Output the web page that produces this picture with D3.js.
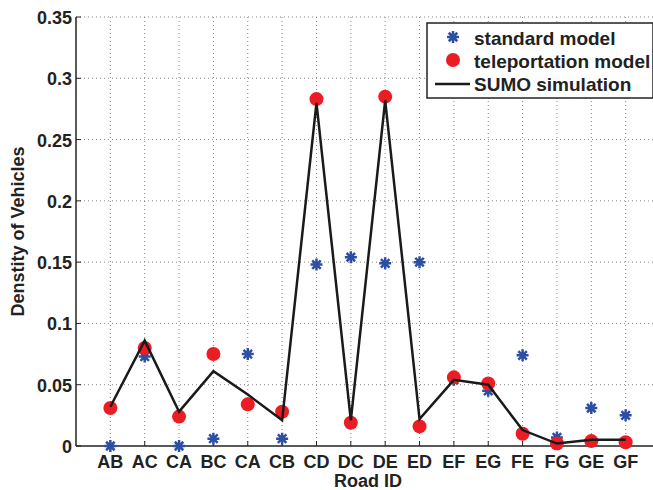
<!DOCTYPE html>
<html lang="en">
<head>
  <meta charset="UTF-8">
  <title>Density of Vehicles</title>
  <script src="https://d3js.org/d3.v7.min.js"></script>
  <style>
    body {
      margin: 0;
      background-color: #fff;
      overflow: hidden;
    }
    text {
      font-family: "Liberation Sans", Arial, sans-serif;
      font-weight: bold;
      fill: #222;
    }
    .grid line {
      stroke: #888;
      stroke-width: 1;
      stroke-dasharray: 1, 3;
    }
  </style>
</head>
<body>
  <div id="chart"></div>
  <script>
    const roads = ["AB", "AC", "CA", "BC", "CA", "CB", "CD", "DC", "DE", "ED", "EF", "EG", "FE", "FG", "GE", "GF"];
    const standardModel = [0.000, 0.073, 0.000, 0.006, 0.075, 0.006, 0.148, 0.154, 0.149, 0.150, 0.054, 0.045, 0.074, 0.007, 0.031, 0.025];
    const teleportModel = [0.031, 0.080, 0.024, 0.075, 0.034, 0.028, 0.283, 0.019, 0.285, 0.016, 0.056, 0.051, 0.010, 0.002, 0.004, 0.003];
    const sumoSim = [0.032, 0.086, 0.028, 0.061, 0.042, 0.021, 0.280, 0.021, 0.282, 0.022, 0.054, 0.050, 0.013, 0.002, 0.005, 0.005];
    const yTicks = [0, 0.05, 0.1, 0.15, 0.2, 0.25, 0.3, 0.35];

    const width = 653, height = 490;
    const plotL = 76, plotR = 660, plotT = 17, plotB = 446;

    const svg = d3.select("#chart").append("svg")
      .attr("width", width)
      .attr("height", height);

    const x = d3.scaleLinear().domain([0, roads.length + 1]).range([plotL, plotR]);
    const y = d3.scaleLinear().domain([0, 0.35]).range([plotB, plotT]);
    const xi = i => x(i + 1);

    // grid
    const grid = svg.append("g").attr("class", "grid");
    grid.selectAll(".h").data(yTicks.slice(1)).join("line")
      .attr("x1", plotL).attr("x2", plotR)
      .attr("y1", d => y(d)).attr("y2", d => y(d));
    grid.selectAll(".v").data(roads).join("line")
      .attr("x1", (d, i) => xi(i)).attr("x2", (d, i) => xi(i))
      .attr("y1", plotT).attr("y2", plotB);

    // axes
    const axes = svg.append("g");
    axes.append("line").attr("x1", plotL).attr("x2", plotR).attr("y1", plotB).attr("y2", plotB)
      .attr("stroke", "#222").attr("stroke-width", 1.5);
    axes.append("line").attr("x1", plotL).attr("x2", plotL).attr("y1", plotT).attr("y2", plotB)
      .attr("stroke", "#222").attr("stroke-width", 1.5);

    axes.selectAll(".yt").data(yTicks).join("line")
      .attr("x1", plotL).attr("x2", plotL + 5)
      .attr("y1", d => y(d)).attr("y2", d => y(d))
      .attr("stroke", "#222");
    axes.selectAll(".xt").data(roads).join("line")
      .attr("x1", (d, i) => xi(i)).attr("x2", (d, i) => xi(i))
      .attr("y1", plotB).attr("y2", plotB - 5)
      .attr("stroke", "#222");

    axes.selectAll(".yl").data(yTicks).join("text")
      .attr("x", plotL - 4)
      .attr("y", d => y(d) + 7)
      .attr("text-anchor", "end")
      .style("font-size", "18px")
      .text(d => d3.format("")(d));

    axes.selectAll(".xl").data(roads).join("text")
      .attr("x", (d, i) => xi(i))
      .attr("y", 468)
      .attr("text-anchor", "middle")
      .style("font-size", "18px")
      .text(d => d);

    svg.append("text")
      .attr("x", (plotL + plotR) / 2)
      .attr("y", 487)
      .attr("text-anchor", "middle")
      .style("font-size", "18px")
      .text("Road ID");

    svg.append("text")
      .attr("transform", `translate(24,${(plotT + plotB) / 2}) rotate(-90)`)
      .attr("text-anchor", "middle")
      .style("font-size", "18px")
      .text("Denstity of Vehicles");

    // markers: 8-spoke asterisk like MATLAB '*'
    const r = 6, q = r * Math.SQRT1_2;
    const star = `M${-r},0L${r},0M0,${-r}L0,${r}M${-q},${-q}L${q},${q}M${-q},${q}L${q},${-q}`;
    const blue = "#2d4fa3", red = "#ec1c24";

    svg.append("g").selectAll("path").data(standardModel).join("path")
      .attr("d", star)
      .attr("transform", (d, i) => `translate(${xi(i)},${y(d)})`)
      .attr("fill", "none")
      .attr("stroke", blue)
      .attr("stroke-width", 2.5);

    svg.append("g").selectAll("circle").data(teleportModel).join("circle")
      .attr("cx", (d, i) => xi(i))
      .attr("cy", d => y(d))
      .attr("r", 7)
      .attr("fill", red);

    svg.append("path")
      .datum(sumoSim)
      .attr("d", d3.line().x((d, i) => xi(i)).y(d => y(d)))
      .attr("fill", "none")
      .attr("stroke", "#1a1a1a")
      .attr("stroke-width", 2.5);

    // legend
    const lg = svg.append("g");
    lg.append("rect")
      .attr("x", 427).attr("y", 23)
      .attr("width", 226).attr("height", 75)
      .attr("fill", "#fff")
      .attr("stroke", "#222")
      .attr("stroke-width", 1.5);
    lg.append("path")
      .attr("d", star)
      .attr("transform", "translate(453,37)")
      .attr("fill", "none").attr("stroke", blue).attr("stroke-width", 2.5);
    lg.append("circle").attr("cx", 453).attr("cy", 60).attr("r", 7).attr("fill", red);
    lg.append("line").attr("x1", 435).attr("x2", 470).attr("y1", 84).attr("y2", 84)
      .attr("stroke", "#1a1a1a").attr("stroke-width", 2.5);
    const labels = ["standard model", "teleportation model", "SUMO simulation"];
    lg.selectAll(".lt").data(labels).join("text")
      .attr("x", 474)
      .attr("y", (d, i) => 45 + i * 23)
      .style("font-size", "19px")
      .text(d => d);
  </script>
</body>
</html>
